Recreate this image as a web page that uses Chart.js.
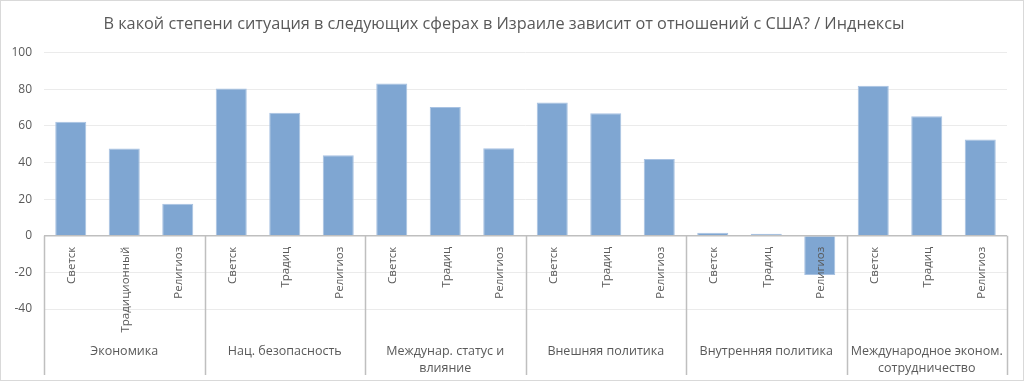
<!DOCTYPE html>
<html>
<head>
<meta charset="utf-8">
<script src="https://cdn.jsdelivr.net/npm/chart.js@4/dist/chart.umd.min.js"></script>
<style>
  html, body { margin: 0; padding: 0; background: #fff; }
  #wrap { position: relative; width: 1022px; height: 379px; border: 1px solid #d9d9d9; }
  canvas { display: block; }
</style>
</head>
<body>
<div id="wrap"><canvas id="c" width="1022" height="379"></canvas></div>
<script>
const groupLabels = ['Экономика', 'Нац. безопасность', ['Междунар. статус и', 'влияние'], 'Внешняя политика', 'Внутренняя политика', ['Международное эконом.', 'сотрудничество']];
const subLabels = ['Светск', 'Традиционный', 'Религиоз', 'Светск', 'Традиц', 'Религиоз', 'Светск', 'Традиц', 'Религиоз', 'Светск', 'Традиц', 'Религиоз', 'Светск', 'Традиц', 'Религиоз', 'Светск', 'Традиц', 'Религиоз'];
const indexValues = [62.2, 47.6, 17.4, 80.4, 67.2, 44.0, 83.1, 70.3, 47.8, 72.7, 66.9, 41.9, 1.6, 1.1, -21.4, 81.9, 65.2, 52.6];
const groupSize = 3;
const yTicks = [-40, -20, 0, 20, 40, 60, 80, 100];
const titleText = 'В какой степени ситуация в следующих сферах в Израиле зависит от отношений с США? / Инднексы';

const FONT = "'Open Sans', sans-serif";
const TXT = '#595959';

const multiLevelAxis = {
  id: 'multiLevelAxis',
  afterDatasetsDraw(chart) {
    const ctx = chart.ctx;
    const x = chart.scales.x, y = chart.scales.y;
    const y0 = y.getPixelForValue(0);
    const area = chart.chartArea;
    const step = (area.right - area.left) / subLabels.length;
    ctx.save();
    // zero axis line
    ctx.strokeStyle = '#bfbfbf';
    ctx.lineWidth = 1.5;
    ctx.beginPath();
    ctx.moveTo(area.left, y0);
    ctx.lineTo(area.right, y0);
    ctx.stroke();
    // group separators
    const bottom = 374;
    ctx.lineWidth = 1.5;
    for (let g = 0; g <= groupLabels.length; g++) {
      const px = Math.round(area.left + g * groupSize * step) + 0.5;
      ctx.beginPath();
      ctx.moveTo(px, y0);
      ctx.lineTo(px, bottom);
      ctx.stroke();
    }
    // sub labels (rotated)
    ctx.fillStyle = TXT;
    ctx.font = '11.5px ' + FONT;
    ctx.textAlign = 'right';
    ctx.textBaseline = 'middle';
    subLabels.forEach((lab, i) => {
      const px = x.getPixelForValue(i);
      ctx.save();
      ctx.translate(px + 1, y0 + 11);
      ctx.rotate(-Math.PI / 2);
      ctx.fillText(lab, 0, 0);
      ctx.restore();
    });
    // group labels
    ctx.font = '12.5px ' + FONT;
    ctx.textAlign = 'center';
    ctx.textBaseline = 'middle';
    groupLabels.forEach((lab, g) => {
      const cx = area.left + (g * groupSize + groupSize / 2) * step;
      const lines = Array.isArray(lab) ? lab : [lab];
      lines.forEach((ln, k) => ctx.fillText(ln, cx, 350 + k * 17));
    });
    ctx.restore();
  }
};

new Chart(document.getElementById('c'), {
  type: 'bar',
  data: {
    labels: subLabels.map((s, i) => i),
    datasets: [{
      data: indexValues,
      backgroundColor: '#7fa6d2',
      borderColor: '#a8c2e2',
      borderWidth: 1,
      barPercentage: 0.58,
      categoryPercentage: 1.0
    }]
  },
  options: {
    responsive: false,
    animation: false,
    devicePixelRatio: 1,
    layout: { padding: { left: 0, right: 16, top: 0, bottom: 71 } },
    plugins: {
      legend: { display: false },
      tooltip: { enabled: false },
      title: {
        display: true,
        text: titleText,
        color: TXT,
        font: { family: FONT, size: 16.3, weight: 'normal' },
        padding: { top: 14, bottom: 18 }
      }
    },
    scales: {
      x: { display: false },
      y: {
        min: -40, max: 100,
        afterBuildTicks: (s) => { s.ticks = yTicks.map(v => ({ value: v })); },
        afterFit: (s) => { s.width = 43; },
        border: { display: false },
        grid: { color: (c) => c.tick && c.tick.value === 0 ? 'rgba(0,0,0,0)' : '#ebebeb', drawTicks: false, lineWidth: 1 },
        ticks: { color: TXT, font: { family: FONT, size: 12 }, padding: 12 }
      }
    }
  },
  plugins: [multiLevelAxis]
});
</script>
</body>
</html>
